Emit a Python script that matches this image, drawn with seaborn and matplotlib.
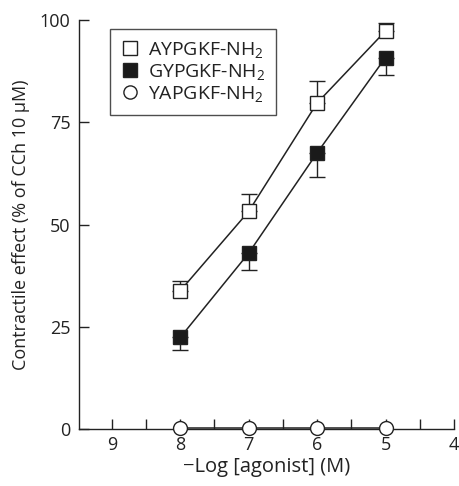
import matplotlib
matplotlib.use("Agg")
import matplotlib.pyplot as plt
import seaborn as sns
import pandas as pd
import numpy as np
from matplotlib.lines import Line2D

log_agonist = [8, 7, 6, 5]
ay_mean = [33.8, 53.2, 79.7, 97.3]
ay_err = [2.5, 4.2, 5.3, 2.0]
gy_mean = [22.4, 43.0, 67.5, 90.8]
gy_err = [3.0, 4.0, 6.0, 4.3]
ya_mean = [0.4, 0.4, 0.4, 0.4]
ya_err = [1.0, 1.0, 1.0, 1.0]
series_names = ["AYPGKF-NH$_2$", "GYPGKF-NH$_2$", "YAPGKF-NH$_2$"]
x_ticks = [9, 8, 7, 6, 5, 4]
y_ticks = [0, 25, 50, 75, 100]

sns.set_theme(style="ticks")
FONT = 'Open Sans'
plt.rcParams['font.family'] = [FONT, 'DejaVu Sans']
plt.rcParams['mathtext.fontset'] = 'custom'
plt.rcParams['mathtext.rm'] = FONT
plt.rcParams['mathtext.it'] = FONT

INK = '#222222'

df = pd.DataFrame({
    "x": log_agonist * 3,
    "y": ay_mean + gy_mean + ya_mean,
    "series": [series_names[0]] * 4 + [series_names[1]] * 4 + [series_names[2]] * 4,
})

fig = plt.figure(figsize=(4.59, 4.86), dpi=100)
ax = fig.add_axes([0.172, 0.117, 0.817, 0.842])

ax.errorbar(log_agonist, ay_mean, yerr=[np.zeros(4), ay_err], fmt='none',
            ecolor=INK, elinewidth=1, capsize=5.5, capthick=1, zorder=2, clip_on=False)
ax.errorbar(log_agonist, gy_mean, yerr=[gy_err, np.zeros(4)], fmt='none',
            ecolor=INK, elinewidth=1, capsize=5.5, capthick=1, zorder=2, clip_on=False)
ax.errorbar(log_agonist, ya_mean, yerr=[np.zeros(4), ya_err], fmt='none',
            ecolor=INK, elinewidth=1, capsize=0, zorder=2, clip_on=False)

palette = {n: INK for n in series_names}
sns.lineplot(data=df, x="x", y="y", hue="series", style="series",
             markers={series_names[0]: 's', series_names[1]: 's', series_names[2]: 'o'},
             dashes=False, palette=palette, ax=ax, linewidth=1.1, markersize=10,
             legend=False, zorder=3)

face = ['white', '#1a1a1a', 'white']
data_lines = [l for l in ax.get_lines() if len(l.get_xdata()) == 4 and l.get_marker() in ('s', 'o')]
for l, fc in zip(data_lines, face):
    l.set_markerfacecolor(fc)
    l.set_markeredgecolor(INK)
    l.set_markeredgewidth(1.0)
    l.set_clip_on(False)
    l.set_zorder(4)

handles = [Line2D([], [], marker=m, linestyle='none', markerfacecolor=fc,
                  markeredgecolor=INK, markersize=9.5, markeredgewidth=1.0)
           for m, fc in zip(['s', 's', 'o'], face)]
leg = ax.legend(handles, series_names, loc='upper left', bbox_to_anchor=(0.083, 0.978),
                frameon=True, fancybox=False, edgecolor=INK, fontsize=14,
                handletextpad=0.45, borderpad=0.55, labelspacing=0.12, handlelength=0.95,
                borderaxespad=0)
leg.get_frame().set_linewidth(1.0)
for t in leg.get_texts():
    t.set_color(INK)

ax.set_xlim(9.48, 4)
ax.set_ylim(0, 100)
ax.set_xticks(x_ticks)
ax.set_xticks([8.5, 7.5, 6.5, 5.5, 4.5], minor=True)
ax.set_yticks(y_ticks)
ax.tick_params(axis='both', which='both', direction='in', length=7, width=1, colors=INK,
               labelsize=13, labelcolor=INK)
ax.tick_params(axis='y', pad=6)
ax.tick_params(axis='x', pad=5)
for s in ['top', 'right']:
    ax.spines[s].set_visible(False)
for s in ['left', 'bottom']:
    ax.spines[s].set_linewidth(1.0)
    ax.spines[s].set_color(INK)

ax.set_xlabel("\u2212Log [agonist] (M)", fontsize=14.5, color=INK, labelpad=2)
ax.set_ylabel("Contractile effect (% of CCh 10 \u03bcM)", fontsize=13, color=INK, labelpad=7)

fig.savefig("out.png", dpi=100)
